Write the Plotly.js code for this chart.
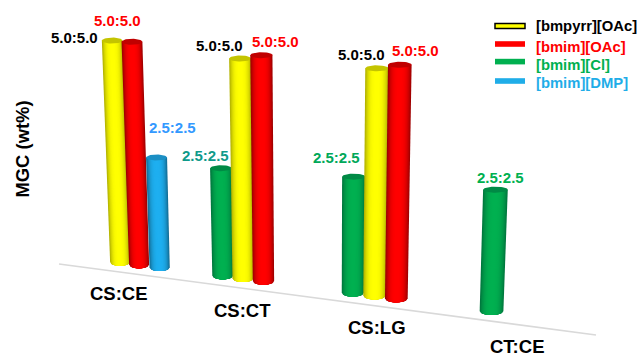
<!DOCTYPE html>
<html>
<head>
<meta charset="utf-8">
<script src="https://cdn.plot.ly/plotly-3.0.1.min.js"></script>
<style>html,body{margin:0;padding:0;background:#fff}#chart{width:637px;height:356px}</style>
</head>
<body>
<div id="chart"></div>
<script>
// Mass gain by biopolymer blend and ionic liquid
const categories = ['CS:CE', 'CS:CT', 'CS:LG', 'CT:CE'];
const seriesNames = ['[bmpyrr][OAc]', '[bmim][OAc]', '[bmim][Cl]', '[bmim][DMP]'];
const bmpyrrOAc = [22.15, 21.98, 22.74, null];
const bmimOAc = [22.28, 22.58, 23.38, null];
const bmimCl = [null, 10.74, 11.62, 12.15];
const bmimDMP = [10.98, null, null, null];
const ratioOAc = ['5.0:5.0', '5.0:5.0', '5.0:5.0', null];
const ratioLow = '2.5:2.5';

// Series styling: body colour, shaded edge colour, top cap colour, legend colours
const FONT = 'Liberation Sans, Arial, sans-serif';
const styles = {
  '[bmpyrr][OAc]': {slot: 0, body: [255, 255, 0], edge: [180, 180, 0], cap: '#c4c400', legend: '#ffff00', text: '#000000'},
  '[bmim][OAc]': {slot: 0.16, body: [255, 0, 0], edge: [160, 0, 0], cap: '#c00000', legend: '#ff0000', text: '#ff0000'},
  '[bmim][Cl]': {slot: -0.16, body: [0, 176, 80], edge: [0, 120, 62], cap: '#008a45', legend: '#00b050', text: '#00b050'},
  '[bmim][DMP]': {slot: 0.33, body: [30, 175, 240], edge: [20, 110, 150], cap: '#1b8fc4', legend: '#1fade8', text: '#1fade8'}
};

// Oblique view: category axis runs away from the viewer along a sloping floor
const project = u => 120 + 118.75 * u + 4.25 * u * u;
const floorY = x => 9.2 - 0.01322 * (x - 59);
const barWidth = x => 19.6 + 0.0105 * (x - 100);
const lean = (x, value) => value * 10 * (x - 315) * 0.000182;
const CAP_RY = 0.3, BASE_RY = 0.38, BANDS = 12;

const mix = (a, b, k) => `rgb(${a.map((v, i) => Math.round(v + (b[i] - v) * k)).join(',')})`;

// A cylinder is a stack of nested outlines, darkest and widest first, then its cap
function cylinderTraces(name, catIndex, value) {
  const st = styles[name];
  const x0 = project(catIndex + st.slot);
  const y0 = floorY(x0) + 1.0;
  const x1 = x0 + lean(x0, value);
  const y1 = y0 + value;
  const r0 = barWidth(x0) / 2, r1 = r0 * 1.04;
  const out = [];
  for (let i = 0; i < BANDS; i++) {
    const s = 1 - i / BANDS;
    const color = mix(st.body, st.edge, Math.pow(s, 3));
    const a = -s, b = s;
    const xs = [x1 + r1 * a, x1 + r1 * b], ys = [y1, y1];
    for (let j = 0; j <= 12; j++) {
      const t = b + (a - b) * j / 12;
      xs.push(x0 + r0 * t);
      ys.push(y0 - BASE_RY * Math.sqrt(Math.max(0, 1 - t * t)));
    }
    xs.push(xs[0]);
    ys.push(ys[0]);
    out.push({
      type: 'scatter', mode: 'lines', fill: 'toself', fillcolor: color,
      line: {width: 0}, hoverinfo: 'skip', showlegend: false, x: xs, y: ys
    });
  }
  const cx = [], cy = [];
  for (let i = 0; i <= 40; i++) {
    const th = i / 40 * 2 * Math.PI;
    cx.push(x1 + r1 * Math.cos(th));
    cy.push(y1 + CAP_RY * Math.sin(th));
  }
  out.push({
    type: 'scatter', mode: 'lines', fill: 'toself', fillcolor: st.cap,
    line: {width: 0}, hoverinfo: 'skip', showlegend: false, x: cx, y: cy
  });
  return {traces: out, topX: x1, topY: y1};
}

const floorStart = 59, floorEnd = 596;
const traces = [{
  type: 'scatter', mode: 'lines', hoverinfo: 'skip', showlegend: false,
  x: [floorStart, floorEnd], y: [floorY(floorStart), floorY(floorEnd)],
  line: {color: '#d9d9d9', width: 1.6}
}];

const annotations = [];
const addText = (text, x, y, color, size, extra) => annotations.push(Object.assign({
  text: text, x: x, y: y, xref: 'x', yref: 'y', showarrow: false,
  xanchor: 'center', yanchor: 'middle',
  font: {family: FONT, size: size, color: color, weight: 700}
}, extra || {}));

// Bars are painted left to right so that each one overlaps its left neighbour
const rows = [
  // category, series, value, ratio, label colour, label offset from the bar top
  [0, '[bmpyrr][OAc]', bmpyrrOAc[0], ratioOAc[0], '#000000', -38, 0.35],
  [0, '[bmim][OAc]', bmimOAc[0], ratioOAc[0], '#ff0000', -14, 2.1],
  [0, '[bmim][DMP]', bmimDMP[0], ratioLow, '#3399ff', 15.5, 3.0],
  [1, '[bmim][Cl]', bmimCl[1], ratioLow, '#0f9a8a', -15.5, 1.25],
  [1, '[bmpyrr][OAc]', bmpyrrOAc[1], ratioOAc[1], '#000000', -20.5, 1.3],
  [1, '[bmim][OAc]', bmimOAc[1], ratioOAc[1], '#ff0000', 14.5, 1.4],
  [2, '[bmim][Cl]', bmimCl[2], ratioLow, '#00a859', -17.5, 1.95],
  [2, '[bmpyrr][OAc]', bmpyrrOAc[2], ratioOAc[2], '#000000', -15.5, 1.35],
  [2, '[bmim][OAc]', bmimOAc[2], ratioOAc[2], '#ff0000', 15.5, 1.4],
  [3, '[bmim][Cl]', bmimCl[3], ratioLow, '#00b050', 5, 1.25]
];

rows.forEach(([cat, name, value, ratio, color, dx, dy]) => {
  const c = cylinderTraces(name, cat, value);
  traces.push(...c.traces);
  addText(ratio, c.topX + dx, c.topY + dy, color, 15);
});

// Category names sit a fixed distance under the floor line
categories.forEach((cat, i) => {
  const x = project(i) + (i > 1 ? 3 : 0) - 1;
  addText(cat, x, floorY(x) - 2.2, '#000000', 18.5);
});

addText('MGC (wt%)', 22, 20.65, '#000000', 18.4, {textangle: -90});

// Hand-placed legend: each entry's text takes the colour of its series
const legendX0 = 495, legendX1 = 525, legendTextX = 533.5;
const legendKeyY = [33.0, 31.2, 29.44, 27.5];
const legendKeyHalf = [0.26, 0.28, 0.28, 0.28];
const legendTextY = [33.05, 30.95, 29.1, 27.3];
const shapes = seriesNames.map((name, i) => ({
  type: 'rect', xref: 'x', yref: 'y', x0: legendX0, x1: legendX1,
  y0: legendKeyY[i] - legendKeyHalf[i],
  y1: legendKeyY[i] + legendKeyHalf[i],
  fillcolor: styles[name].legend,
  line: i === 0 ? {color: '#000000', width: 1.5} : {width: 0}
}));
seriesNames.forEach((name, i) => {
  addText(name, legendTextX, legendTextY[i], styles[name].text, 14.8, {xanchor: 'left'});
});

const hidden = {visible: false, fixedrange: true};
Plotly.newPlot('chart', traces, {
  width: 637, height: 356,
  margin: {l: 0, r: 0, t: 0, b: 0},
  paper_bgcolor: '#ffffff', plot_bgcolor: '#ffffff',
  showlegend: false,
  xaxis: Object.assign({range: [0, 637]}, hidden),
  yaxis: Object.assign({range: [0, 35.6]}, hidden),
  shapes: shapes,
  annotations: annotations
}, {staticPlot: true, displayModeBar: false});
</script>
</body>
</html>
